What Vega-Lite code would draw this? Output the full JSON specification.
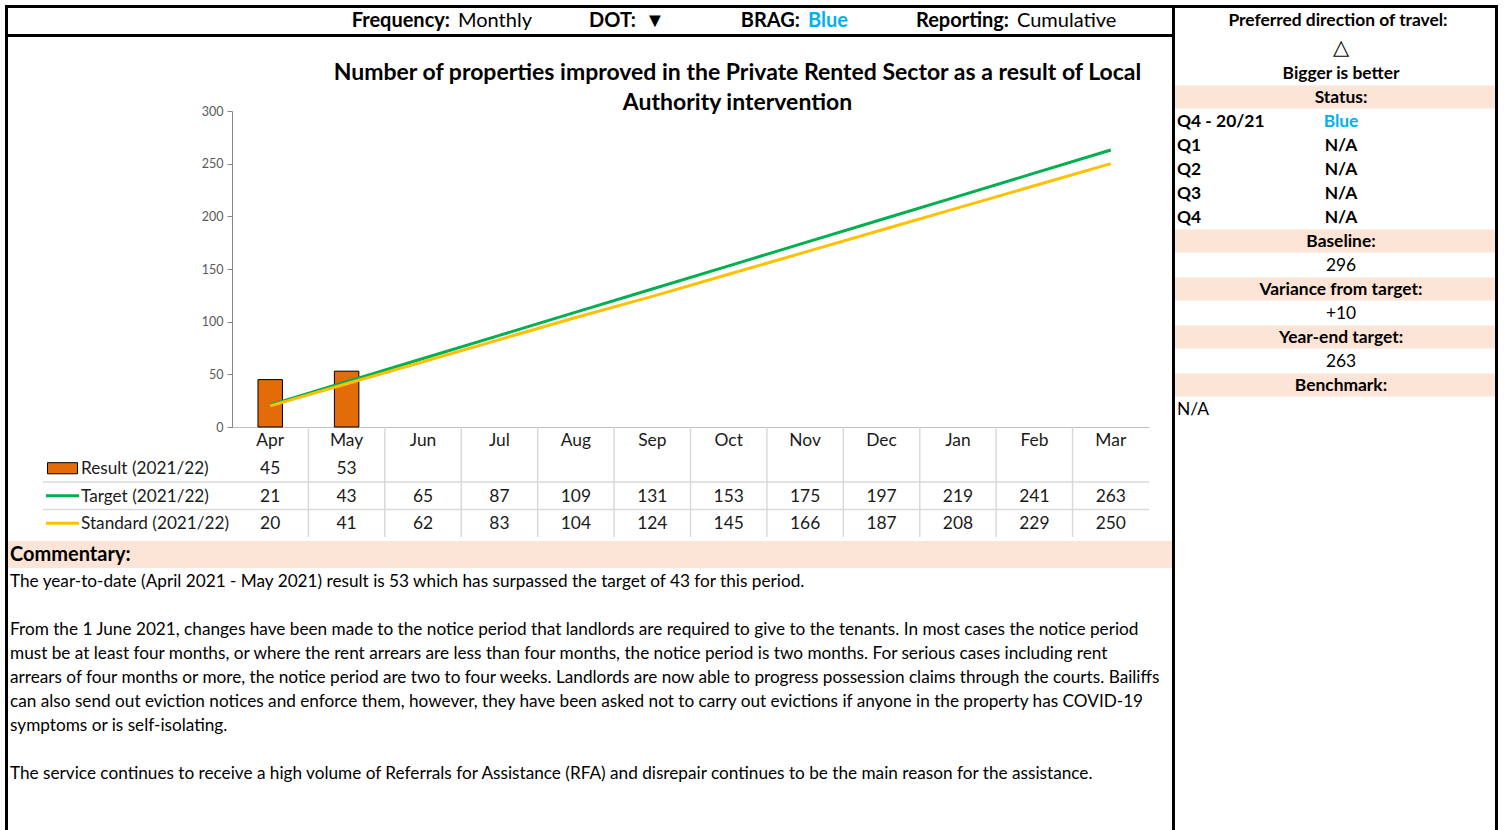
{
  "$schema": "https://vega.github.io/schema/vega-lite/v6.json",
  "background": "white",
  "padding": {"left": 5, "top": 5, "right": 0, "bottom": 0},
  "spacing": 0,
  "bounds": "full",
  "config": {"view": {"stroke": null}, "font": "Lato", "concat": {"spacing": 0}, "text": {"font": "Lato", "color": "#000000"}},
  "datasets": {
    "empty": [],
    "monthly": [
      {"month": "Apr", "result": 45, "target": 21, "standard": 20},
      {"month": "May", "result": 53, "target": 43, "standard": 41},
      {"month": "Jun", "result": null, "target": 65, "standard": 62},
      {"month": "Jul", "result": null, "target": 87, "standard": 83},
      {"month": "Aug", "result": null, "target": 109, "standard": 104},
      {"month": "Sep", "result": null, "target": 131, "standard": 124},
      {"month": "Oct", "result": null, "target": 153, "standard": 145},
      {"month": "Nov", "result": null, "target": 175, "standard": 166},
      {"month": "Dec", "result": null, "target": 197, "standard": 187},
      {"month": "Jan", "result": null, "target": 219, "standard": 208},
      {"month": "Feb", "result": null, "target": 241, "standard": 229},
      {"month": "Mar", "result": null, "target": 263, "standard": 250}
    ],
    "series": [
      {"key": "result", "name": "Result (2021/22)"},
      {"key": "target", "name": "Target (2021/22)"},
      {"key": "standard", "name": "Standard (2021/22)"}
    ],
    "header": [
      {"item": "freq", "label": "Frequency:", "value": "Monthly"},
      {"item": "dot", "label": "DOT:", "value": "▼"},
      {"item": "brag", "label": "BRAG:", "value": "Blue"},
      {"item": "rep", "label": "Reporting:", "value": "Cumulative"}
    ],
    "title": [
      {"line": 0, "text": "Number of properties improved in the Private Rented Sector as a result of Local"},
      {"line": 1, "text": "Authority intervention"}
    ],
    "commentary": [
      {"line": 0, "text": "The year-to-date (April 2021 - May 2021) result is 53 which has surpassed the target of 43 for this period."},
      {"line": 1, "text": ""},
      {"line": 2, "text": "From the 1 June 2021, changes have been made to the notice period that landlords are required to give to the tenants. In most cases the notice period"},
      {"line": 3, "text": "must be at least four months, or where the rent arrears are less than four months, the notice period is two months. For serious cases including rent"},
      {"line": 4, "text": "arrears of four months or more, the notice period are two to four weeks. Landlords are now able to progress possession claims through the courts. Bailiffs"},
      {"line": 5, "text": "can also send out eviction notices and enforce them, however, they have been asked not to carry out evictions if anyone in the property has COVID-19"},
      {"line": 6, "text": "symptoms or is self-isolating."},
      {"line": 7, "text": ""},
      {"line": 8, "text": "The service continues to receive a high volume of Referrals for Assistance (RFA) and disrepair continues to be the main reason for the assistance."}
    ],
    "panel": [
      {"row": 0, "kind": "symbol", "label": "", "text": "△"},
      {"row": 1, "kind": "note", "label": "", "text": "Bigger is better"},
      {"row": 2, "kind": "heading", "label": "", "text": "Status:"},
      {"row": 3, "kind": "status", "label": "Q4 - 20/21", "text": "Blue"},
      {"row": 4, "kind": "status", "label": "Q1", "text": "N/A"},
      {"row": 5, "kind": "status", "label": "Q2", "text": "N/A"},
      {"row": 6, "kind": "status", "label": "Q3", "text": "N/A"},
      {"row": 7, "kind": "status", "label": "Q4", "text": "N/A"},
      {"row": 8, "kind": "heading", "label": "", "text": "Baseline:"},
      {"row": 9, "kind": "value", "label": "", "text": "296"},
      {"row": 10, "kind": "heading", "label": "", "text": "Variance from target:"},
      {"row": 11, "kind": "value", "label": "", "text": "+10"},
      {"row": 12, "kind": "heading", "label": "", "text": "Year-end target:"},
      {"row": 13, "kind": "value", "label": "", "text": "263"},
      {"row": 14, "kind": "heading", "label": "", "text": "Benchmark:"},
      {"row": 15, "kind": "benchmark", "label": "N/A", "text": ""}
    ]
  },
  "vconcat": [
    {"width": 1493, "height": 3, "view": {"fill": "black", "stroke": null}, "data": {"name": "empty"}, "mark": "text", "encoding": {}},
    {
      "hconcat": [
        {"width": 3, "height": 822, "view": {"fill": "black", "stroke": null}, "data": {"name": "empty"}, "mark": "text", "encoding": {}},
        {
          "vconcat": [
            {
              "hconcat": [
                {"width": 354, "height": 26, "data": {"name": "empty"}, "mark": "text", "encoding": {}},
                {
                  "width": 184, "height": 26, "data": {"name": "header"},
                  "transform": [{"filter": "datum.item === 'freq'"}],
                  "layer": [
                    {"mark": {"type": "text", "align": "right", "dx": -4, "fontWeight": "bold", "fontSize": 20}, "encoding": {"text": {"field": "label"}}},
                    {"mark": {"type": "text", "align": "left", "dx": 4, "fontSize": 20}, "encoding": {"text": {"field": "value"}}}
                  ]
                },
                {
                  "width": 188, "height": 26, "data": {"name": "header"},
                  "transform": [{"filter": "datum.item === 'dot'"}],
                  "layer": [
                    {"mark": {"type": "text", "align": "right", "dx": -4, "fontWeight": "bold", "fontSize": 20}, "encoding": {"text": {"field": "label"}}},
                    {"mark": {"type": "text", "align": "left", "dx": 5, "fontSize": 20}, "encoding": {"text": {"field": "value"}}}
                  ]
                },
                {
                  "width": 140, "height": 26, "data": {"name": "header"},
                  "transform": [{"filter": "datum.item === 'brag'"}],
                  "layer": [
                    {"mark": {"type": "text", "align": "right", "dx": -4, "fontWeight": "bold", "fontSize": 20}, "encoding": {"text": {"field": "label"}}},
                    {"mark": {"type": "text", "align": "left", "dx": 4, "fontSize": 20, "fontWeight": "bold", "color": "#00B0F0"}, "encoding": {"text": {"field": "value"}}}
                  ]
                },
                {
                  "width": 278, "height": 26, "data": {"name": "header"},
                  "transform": [{"filter": "datum.item === 'rep'"}],
                  "layer": [
                    {"mark": {"type": "text", "align": "right", "dx": -4, "fontWeight": "bold", "fontSize": 20}, "encoding": {"text": {"field": "label"}}},
                    {"mark": {"type": "text", "align": "left", "dx": 4, "fontSize": 20}, "encoding": {"text": {"field": "value"}}}
                  ]
                },
                {"width": 20, "height": 26, "data": {"name": "empty"}, "mark": "text", "encoding": {}}
              ],
              "spacing": 0, "bounds": "flush"
            },
            {"width": 1164, "height": 3, "view": {"fill": "black", "stroke": null}, "data": {"name": "empty"}, "mark": "text", "encoding": {}},
            {
              "concat": [
                {"width": 35, "height": 74, "data": {"name": "empty"}, "mark": "text", "encoding": {}},
                {"width": 39, "height": 74, "data": {"name": "empty"}, "mark": "text", "encoding": {}},
                {"width": 150, "height": 74, "data": {"name": "empty"}, "mark": "text", "encoding": {}},
                {
                  "width": 917, "height": 74,
                  "data": {"name": "title"},
                  "layer": [
                    {
                      "transform": [{"filter": "datum.line === 0"}],
                      "mark": {"type": "text", "fontSize": 23, "fontWeight": "bold", "dx": 47, "dy": -1},
                      "encoding": {"text": {"field": "text"}}
                    },
                    {
                      "transform": [{"filter": "datum.line === 1"}],
                      "mark": {"type": "text", "fontSize": 23, "fontWeight": "bold", "dx": 47, "dy": 29},
                      "encoding": {"text": {"field": "text"}}
                    }
                  ]
                },
                {"width": 23, "height": 74, "data": {"name": "empty"}, "mark": "text", "encoding": {}},
                {"width": 35, "height": 316, "data": {"name": "empty"}, "mark": "text", "encoding": {}},
                {"width": 39, "height": 316, "data": {"name": "empty"}, "mark": "text", "encoding": {}},
                {"width": 150, "height": 316, "data": {"name": "empty"}, "mark": "text", "encoding": {}},
                {
                  "width": 917, "height": 316,
                  "data": {"name": "monthly"},
                  "encoding": {
                    "x": {
                      "field": "month", "type": "nominal",
                      "scale": {"domain": ["Apr", "May", "Jun", "Jul", "Aug", "Sep", "Oct", "Nov", "Dec", "Jan", "Feb", "Mar"], "paddingInner": 0, "paddingOuter": 0},
                      "axis": {"labels": false, "ticks": false, "title": null, "domainColor": "#bfbfbf", "domainWidth": 1}
                    }
                  },
                  "layer": [
                    {
                      "mark": {"type": "bar", "color": "#E36C09", "stroke": "#000000", "strokeWidth": 1, "width": {"band": 0.32}},
                      "encoding": {
                        "y": {
                          "field": "result", "type": "quantitative",
                          "scale": {"domain": [0, 300], "nice": false},
                          "axis": {"values": [0, 50, 100, 150, 200, 250, 300], "grid": false, "title": null, "tickSize": 5, "tickColor": "#868686", "domainColor": "#868686", "labelColor": "#595959", "labelFontSize": 12.5, "labelFont": "Lato", "labelPadding": 4}
                        }
                      }
                    },
                    {
                      "mark": {"type": "line", "color": "#00B050", "strokeWidth": 3},
                      "encoding": {"y": {"field": "target", "type": "quantitative"}}
                    },
                    {
                      "mark": {"type": "line", "color": "#FFC000", "strokeWidth": 3},
                      "encoding": {"y": {"field": "standard", "type": "quantitative"}}
                    }
                  ]
                },
                {"width": 23, "height": 316, "data": {"name": "empty"}, "mark": "text", "encoding": {}},
                {"width": 35, "height": 110, "data": {"name": "empty"}, "mark": "text", "encoding": {}},
                {
                  "width": 39, "height": 110,
                  "data": {"name": "series"},
                  "encoding": {
                    "y": {"field": "key", "type": "nominal", "scale": {"domain": ["month", "result", "target", "standard"], "paddingInner": 0, "paddingOuter": 0}, "axis": null}
                  },
                  "layer": [
                    {
                      "transform": [{"filter": "datum.key !== 'result'"}],
                      "mark": {"type": "rule", "color": "#d9d9d9", "strokeWidth": 1.5},
                      "encoding": {"y": {"field": "key", "type": "nominal", "bandPosition": 0}}
                    },
                    {
                      "transform": [{"filter": "datum.key === 'result'"}],
                      "mark": {"type": "point", "shape": "M-1,-0.37H1V0.37H-1Z", "size": 900, "filled": true, "fill": "#E36C09", "stroke": "#000000", "strokeWidth": 1, "opacity": 1}
                    },
                    {
                      "transform": [{"filter": "datum.key !== 'result'"}],
                      "mark": {"type": "point", "shape": "M-1,0H1", "size": 1089, "filled": false, "strokeWidth": 3, "opacity": 1},
                      "encoding": {
                        "stroke": {"field": "key", "type": "nominal", "scale": {"domain": ["target", "standard"], "range": ["#00B050", "#FFC000"]}, "legend": null}
                      }
                    }
                  ]
                },
                {
                  "width": 150, "height": 110,
                  "data": {"name": "series"},
                  "encoding": {
                    "y": {"field": "key", "type": "nominal", "scale": {"domain": ["month", "result", "target", "standard"], "paddingInner": 0, "paddingOuter": 0}, "axis": null}
                  },
                  "layer": [
                    {
                      "transform": [{"filter": "datum.key !== 'result'"}],
                      "mark": {"type": "rule", "color": "#d9d9d9", "strokeWidth": 1.5},
                      "encoding": {"y": {"field": "key", "type": "nominal", "bandPosition": 0}}
                    },
                    {
                      "mark": {"type": "text", "align": "left", "dx": -1, "dy": 1, "fontSize": 17.2, "color": "#1a1a1a"},
                      "encoding": {
                        "x": {"datum": 0, "type": "quantitative", "scale": {"domain": [0, 1]}, "axis": null},
                        "text": {"field": "name"}
                      }
                    }
                  ]
                },
                {
                  "width": 917, "height": 110,
                  "data": {"name": "monthly"},
                  "encoding": {
                    "x": {"field": "month", "type": "nominal", "scale": {"domain": ["Apr", "May", "Jun", "Jul", "Aug", "Sep", "Oct", "Nov", "Dec", "Jan", "Feb", "Mar"], "paddingInner": 0, "paddingOuter": 0}, "axis": null}
                  },
                  "layer": [
                    {
                      "transform": [{"filter": "datum.month !== 'Apr'"}],
                      "mark": {"type": "rule", "color": "#d9d9d9", "strokeWidth": 1.5},
                      "encoding": {"x": {"field": "month", "type": "nominal", "bandPosition": 0}}
                    },
                    {
                      "data": {"name": "series"},
                      "transform": [{"filter": "datum.key !== 'result'"}],
                      "mark": {"type": "rule", "color": "#d9d9d9", "strokeWidth": 1.5},
                      "encoding": {
                        "x": null,
                        "y": {"field": "key", "type": "nominal", "bandPosition": 0, "scale": {"domain": ["month", "result", "target", "standard"], "paddingInner": 0, "paddingOuter": 0}, "axis": null}
                      }
                    },
                    {
                      "mark": {"type": "text", "fontSize": 17.4, "color": "#1a1a1a"},
                      "encoding": {
                        "y": {"datum": "month", "type": "nominal"},
                        "text": {"field": "month"}
                      }
                    },
                    {
                      "transform": [
                        {"fold": ["result", "target", "standard"], "as": ["key", "value"]},
                        {"filter": "isValid(datum.value)"}
                      ],
                      "mark": {"type": "text", "fontSize": 17.4, "dy": 1, "color": "#1a1a1a"},
                      "encoding": {
                        "y": {"field": "key", "type": "nominal"},
                        "text": {"field": "value", "type": "nominal"}
                      }
                    }
                  ]
                },
                {"width": 23, "height": 110, "data": {"name": "empty"}, "mark": "text", "encoding": {}}
              ],
              "columns": 5,
              "spacing": 0,
              "bounds": "flush"
            },
            {"width": 1164, "height": 3, "data": {"name": "empty"}, "mark": "text", "encoding": {}},
            {
              "width": 1164, "height": 27,
              "view": {"fill": "#FCE4D6", "stroke": null},
              "data": {"values": [{"heading": "Commentary:"}]},
              "mark": {"type": "text", "align": "left", "dx": 2, "fontSize": 20, "fontWeight": "bold"},
              "encoding": {
                "x": {"datum": 0, "type": "quantitative", "scale": {"domain": [0, 1]}, "axis": null},
                "text": {"field": "heading"}
              }
            },
            {"width": 1164, "height": 2, "data": {"name": "empty"}, "mark": "text", "encoding": {}},
            {
              "width": 1164, "height": 216,
              "data": {"name": "commentary"},
              "mark": {"type": "text", "align": "left", "dx": 2, "fontSize": 17.2},
              "encoding": {
                "x": {"datum": 0, "type": "quantitative", "scale": {"domain": [0, 1]}, "axis": null},
                "y": {"field": "line", "type": "ordinal", "scale": {"domain": [0, 1, 2, 3, 4, 5, 6, 7, 8], "paddingInner": 0, "paddingOuter": 0}, "axis": null},
                "text": {"field": "text"}
              }
            }
          ],
          "spacing": 0, "bounds": "full"
        },
        {"width": 3, "height": 822, "view": {"fill": "black", "stroke": null}, "data": {"name": "empty"}, "mark": "text", "encoding": {}},
        {
          "vconcat": [
            {
              "width": 320, "height": 29,
              "data": {"values": [{"heading": "Preferred direction of travel:"}]},
              "mark": {"type": "text", "dx": 3, "dy": -2, "fontSize": 17.4, "fontWeight": "bold"},
              "encoding": {"text": {"field": "heading"}}
            },
            {
              "width": 320, "height": 384,
              "data": {"name": "panel"},
              "encoding": {
                "y": {"field": "row", "type": "ordinal", "scale": {"domain": [0, 1, 2, 3, 4, 5, 6, 7, 8, 9, 10, 11, 12, 13, 14, 15], "paddingInner": 0.04, "paddingOuter": 0.02}, "axis": null}
              },
              "layer": [
                {
                  "transform": [{"filter": "datum.kind === 'heading'"}],
                  "mark": {"type": "bar", "color": "#FCE4D6"}
                },
                {
                  "transform": [{"filter": "datum.kind === 'heading' || datum.kind === 'note' || datum.kind === 'status'"}],
                  "mark": {"type": "text", "dx": 6, "dy": 1, "fontSize": 17.4, "fontWeight": "bold"},
                  "encoding": {
                    "text": {"field": "text"},
                    "color": {"condition": {"test": "datum.text === 'Blue'", "value": "#00B0F0"}, "value": "#000000"}
                  }
                },
                {
                  "transform": [{"filter": "datum.kind === 'value'"}],
                  "mark": {"type": "text", "dx": 6, "dy": 1, "fontSize": 17.4},
                  "encoding": {"text": {"field": "text"}}
                },
                {
                  "transform": [{"filter": "datum.kind === 'symbol'"}],
                  "mark": {"type": "text", "dx": 6, "dy": -1, "fontSize": 21, "font": "DejaVu Sans"},
                  "encoding": {"text": {"field": "text"}}
                },
                {
                  "transform": [{"filter": "datum.kind === 'status'"}],
                  "mark": {"type": "text", "align": "left", "dx": 2, "dy": 1, "fontSize": 17.4, "fontWeight": "bold"},
                  "encoding": {
                    "x": {"datum": 0, "type": "quantitative", "scale": {"domain": [0, 1]}, "axis": null},
                    "text": {"field": "label"}
                  }
                },
                {
                  "transform": [{"filter": "datum.kind === 'benchmark'"}],
                  "mark": {"type": "text", "align": "left", "dx": 2, "dy": 1, "fontSize": 17.4},
                  "encoding": {
                    "x": {"datum": 0, "type": "quantitative", "scale": {"domain": [0, 1]}, "axis": null},
                    "text": {"field": "label"}
                  }
                }
              ]
            }
          ],
          "spacing": 0, "bounds": "flush"
        },
        {"width": 3, "height": 822, "view": {"fill": "black", "stroke": null}, "data": {"name": "empty"}, "mark": "text", "encoding": {}}
      ],
      "spacing": 0, "bounds": "full"
    }
  ]
}
